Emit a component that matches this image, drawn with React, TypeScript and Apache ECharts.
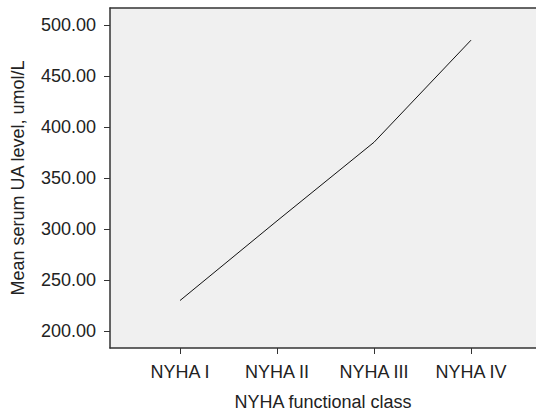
import React, { useEffect, useRef } from "react";
import * as echarts from "echarts";

const categories = ["NYHA I", "NYHA II", "NYHA III", "NYHA IV"];
const meanUA = [230, 308, 385, 485];
const yTicks = [200, 250, 300, 350, 400, 450, 500];

export default function App() {
  const ref = useRef<HTMLDivElement>(null);
  useEffect(() => {
    if (!ref.current) return;
    const chart = echarts.init(ref.current, undefined, { renderer: "svg" });
    const font = "'Liberation Sans', Arial, sans-serif";
    chart.setOption({
      animation: false,
      backgroundColor: "#ffffff",
      grid: {
        left: 110,
        top: 8,
        right: 0,
        bottom: 64,
        show: true,
        backgroundColor: "#f0f0f0",
        borderWidth: 0,
      },
      xAxis: [
        {
          type: "value",
          min: 0.278,
          max: 4.67,
          interval: 1,
          name: "NYHA functional class",
          nameLocation: "middle",
          nameGap: 45,
          nameTextStyle: { fontFamily: font, fontSize: 18, color: "#222" },
          axisLine: { show: true, onZero: false, lineStyle: { color: "#333", width: 1.5 } },
          axisTick: { show: true, length: 6, lineStyle: { color: "#333" }, customValues: [1, 2, 3, 4] },
          axisLabel: {
            fontFamily: font,
            fontSize: 18,
            color: "#222",
            margin: 15,
            customValues: [1, 2, 3, 4],
            formatter: (v: number) => categories[Math.round(v) - 1] ?? "",
          },
          splitLine: { show: false },
        },
        {
          type: "value",
          position: "top",
          min: 0.278,
          max: 4.67,
          axisLine: { show: true, onZero: false, lineStyle: { color: "#333", width: 1.5 } },
          axisTick: { show: false },
          axisLabel: { show: false },
          splitLine: { show: false },
        },
      ],
      yAxis: {
        type: "value",
        min: 183.5,
        max: 516.5,
        name: "Mean serum UA level, umol/L",
        nameLocation: "middle",
        nameGap: 83,
        nameTextStyle: { fontFamily: font, fontSize: 18, color: "#222" },
        axisLine: { show: true, lineStyle: { color: "#333", width: 1.5 } },
        axisTick: { show: true, length: 6, lineStyle: { color: "#333" }, customValues: yTicks },
        axisLabel: {
          fontFamily: font,
          fontSize: 18,
          color: "#222",
          margin: 14,
          customValues: yTicks,
          formatter: (v: number) => v.toFixed(2),
        },
        splitLine: { show: false },
      },
      series: [
        {
          type: "line",
          xAxisIndex: 0,
          data: meanUA.map((v, i) => [i + 1, v]),
          symbol: "none",
          lineStyle: { color: "#111", width: 1 },
        },
      ],
    });
    return () => chart.dispose();
  }, []);
  return (
    <div
      ref={ref}
      style={{ position: "fixed", left: 0, top: 0, width: 536, height: 416 }}
    />
  );
}
